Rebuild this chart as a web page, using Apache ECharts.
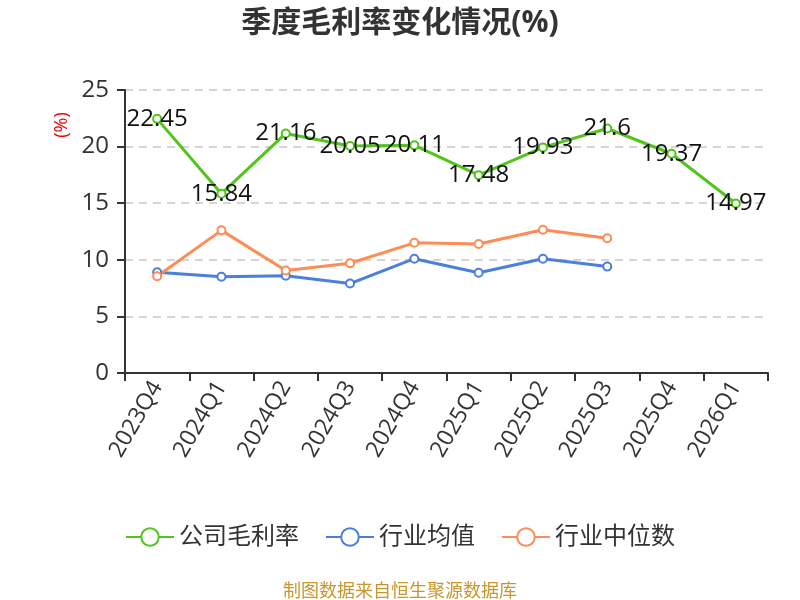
<!DOCTYPE html>
<html><head><meta charset="utf-8">
<script src="https://cdn.jsdelivr.net/npm/echarts@6/dist/echarts.min.js"></script>
<style>html,body{margin:0;padding:0;background:#fff}#c{width:800px;height:600px}</style>
</head><body><div id="c"></div>
<script>
const categories = ['2023Q4','2024Q1','2024Q2','2024Q3','2024Q4','2025Q1','2025Q2','2025Q3','2025Q4','2026Q1'];
const grossMargin = [22.45, 15.84, 21.16, 20.05, 20.11, 17.48, 19.93, 21.6, 19.37, 14.97];
const industryAvg = [8.9, 8.5, 8.6, 7.9, 10.1, 8.85, 10.1, 9.4, null, null];
const industryMedian = [8.55, 12.6, 9.05, 9.7, 11.5, 11.4, 12.65, 11.9, null, null];
const yTicks = {min: 0, max: 25, interval: 5};

const FONT = '"Open Sans", "Noto Sans CJK SC", sans-serif';
const chart = echarts.init(document.getElementById('c'));
chart.setOption({
  animation: false,
  textStyle: {fontFamily: FONT},
  title: [{
    text: '季度毛利率变化情况(%)', left: 'center', top: 3,
    textStyle: {fontSize: 30, fontWeight: 'bold', color: '#333', fontFamily: FONT}
  }, {
    text: '制图数据来自恒生聚源数据库', left: 'center', top: 578,
    textStyle: {fontSize: 18, fontWeight: 'normal', color: '#c8962e', fontFamily: FONT}
  }],
  graphic: [{
    type: 'text', x: 62, y: 125, rotation: Math.PI / 2,
    style: {text: '(%)', fill: '#e00', font: '18px ' + FONT, textAlign: 'center', textVerticalAlign: 'middle'}
  }],
  legend: {
    bottom: 46, left: 'center', itemWidth: 48, itemHeight: 22, itemGap: 26,
    textStyle: {fontSize: 24, color: '#333', fontFamily: FONT},
    data: ['公司毛利率', '行业均值', '行业中位数']
  },
  grid: {left: 125, right: 32, top: 90, bottom: 227},
  xAxis: {
    type: 'category', data: categories, boundaryGap: true,
    axisLine: {lineStyle: {color: '#333', width: 2}},
    axisTick: {show: true, length: 8, lineStyle: {color: '#333', width: 2}},
    axisLabel: {rotate: 60, fontSize: 23, color: '#333', margin: 10, interval: 0}
  },
  yAxis: {
    type: 'value', min: yTicks.min, max: yTicks.max, interval: yTicks.interval,
    axisLine: {show: true, lineStyle: {color: '#333', width: 2}},
    axisTick: {show: true, length: 8, lineStyle: {color: '#333', width: 2}},
    axisLabel: {fontSize: 24, color: '#333', margin: 16},
    splitLine: {lineStyle: {color: '#c8c8c8', type: [8, 6], width: 1.5}}
  },
  series: [{
    name: '公司毛利率', type: 'line', data: grossMargin,
    symbol: 'emptyCircle', symbolSize: 8,
    itemStyle: {color: '#52c41a', borderWidth: 2},
    lineStyle: {width: 3, color: '#52c41a'},
    label: {show: true, position: 'inside', fontSize: 24, color: '#111', fontFamily: FONT},
    z: 3
  }, {
    name: '行业均值', type: 'line', data: industryAvg,
    symbol: 'emptyCircle', symbolSize: 8,
    itemStyle: {color: '#4a7fe0', borderWidth: 2},
    lineStyle: {width: 3, color: '#4a7fe0'}
  }, {
    name: '行业中位数', type: 'line', data: industryMedian,
    symbol: 'emptyCircle', symbolSize: 8,
    itemStyle: {color: '#ff8c55', borderWidth: 2},
    lineStyle: {width: 3, color: '#ff8c55'}
  }]
});
</script></body></html>
